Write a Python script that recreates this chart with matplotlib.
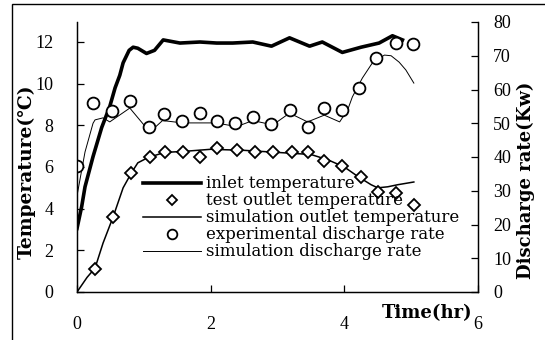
import matplotlib.pyplot as plt
from matplotlib.patches import Rectangle

# inlet temperature (thick line, left axis)
t_inlet = [0, 0.07, 0.12, 0.24, 0.37, 0.49, 0.57, 0.64, 0.69, 0.78, 0.84, 0.91, 1.04, 1.16, 1.29,
           1.54, 1.84, 2.09, 2.33, 2.63, 2.91, 3.18, 3.48, 3.67, 3.97, 4.25, 4.52, 4.72, 4.87]
v_inlet = [3.05, 4.1, 5.05, 6.5, 7.9, 8.9, 9.8, 10.4, 11.0, 11.6, 11.75, 11.7, 11.45, 11.6, 12.1,
           11.95, 12.0, 11.95, 11.95, 12.0, 11.8, 12.2, 11.8, 12.0, 11.5, 11.75, 11.95, 12.3, 12.1]

# test outlet temperature (diamonds, left axis)
t_test = [0.27, 0.54, 0.81, 1.09, 1.31, 1.58, 1.84, 2.1, 2.39, 2.66, 2.93, 3.21, 3.46, 3.7, 3.97,
          4.25, 4.51, 4.77, 5.04]
v_test = [1.1, 3.6, 5.7, 6.5, 6.7, 6.7, 6.5, 6.9, 6.8, 6.7, 6.7, 6.7, 6.7, 6.3, 6.05,
          5.5, 4.8, 4.75, 4.2]

# simulation outlet temperature (thin line, left axis)
t_sim_out = [0, 0.15, 0.27, 0.39, 0.54, 0.69, 0.82, 0.91, 1.06, 1.31, 1.6, 2.0, 2.5, 3.0, 3.5,
             3.75, 4.0, 4.2, 4.4, 4.5, 4.65, 4.8, 5.04]
v_sim_out = [0, 0.7, 1.15, 2.35, 3.6, 5.0, 5.75, 6.2, 6.45, 6.7, 6.75, 6.85, 6.8, 6.7, 6.6,
             6.35, 6.0, 5.55, 5.15, 5.0, 5.05, 5.15, 5.28]

# experimental discharge rate (circles, right axis)
t_exp_q = [0, 0.24, 0.52, 0.79, 1.07, 1.3, 1.57, 1.84, 2.1, 2.37, 2.64, 2.91, 3.18, 3.45, 3.69,
           3.96, 4.22, 4.48, 4.77, 5.02]
v_exp_q = [37.2, 56, 53.7, 56.7, 49, 52.6, 50.8, 53, 50.8, 50, 51.9, 49.8, 53.9, 49, 54.4,
           53.9, 60.3, 69.3, 73.8, 73.4]

# simulation discharge rate (hairline, right axis)
t_sim_q = [0, 0.12, 0.24, 0.27, 0.39, 0.49, 0.79, 1.09, 1.28, 1.58, 2.08, 2.39, 2.63, 2.93, 3.18,
           3.45, 3.7, 3.93, 4.05, 4.12, 4.27, 4.42, 4.6, 4.7, 4.82, 4.92, 5.04]
v_sim_q = [28.5, 41.5, 50, 51, 51.6, 50.4, 54.5, 47.4, 50.8, 50.1, 50.1, 49.0, 50.8, 49.5, 53,
           50.4, 52.4, 50.4, 54, 57.8, 63.4, 67.9, 70.2, 70.0, 68.1, 65.8, 61.9]

tick_font = 'Liberation Serif'
label_font = ['DejaVu Serif']

fig = plt.figure(figsize=(5.45, 3.4), dpi=100)
ax = fig.add_axes([77 / 545, 1 - 292 / 340, 401 / 545, 270 / 340])
ax2 = ax.twinx()

l_inlet, = ax.plot(t_inlet, v_inlet, color='black', lw=2.6, solid_joinstyle='round')
l_sim_out, = ax.plot(t_sim_out, v_sim_out, color='black', lw=1.1)
l_test, = ax.plot(t_test, v_test, ls='none', marker='D', ms=6.5, mfc='white', mec='black', mew=1.3)

l_sim_q, = ax2.plot(t_sim_q, v_sim_q, color='black', lw=0.7)
l_exp_q, = ax2.plot(t_exp_q, v_exp_q, ls='none', marker='o', ms=8.5, mfc='white', mec='black', mew=1.3)

ax.set_xlim(0, 6)
ax.set_ylim(0, 12.96)
ax2.set_ylim(0, 80)
ax.set_xticks([0, 2, 4, 6])
ax.set_yticks(range(0, 13, 2))
ax2.set_yticks(range(0, 81, 10))

for a in (ax, ax2):
    a.spines['top'].set_visible(False)
    for s in a.spines.values():
        s.set_linewidth(0.9)
    a.tick_params(direction='in', length=5, width=0.9, labelsize=13)
    for lab in a.get_xticklabels() + a.get_yticklabels():
        lab.set_fontfamily(tick_font)
ax.tick_params(axis='x', pad=17)
ax.tick_params(axis='y', pad=17)
ax2.tick_params(axis='y', pad=11)

handles = [l_inlet, l_test, l_sim_out, l_exp_q, l_sim_q]
labels = ['inlet temperature', 'test outlet temperature', 'simulation outlet temperature',
          'experimental discharge rate', 'simulation discharge rate']
leg = ax2.legend(handles, labels, loc='upper left', bbox_to_anchor=(0.165, 0.432),
                 frameon=False, prop={'family': label_font, 'size': 12},
                 handlelength=3.5, handletextpad=0.28, labelspacing=0.0,
                 borderpad=0, borderaxespad=0, markerscale=0.82)

fig.text(27 / 545, 1 - 172 / 340, 'Temperature(℃)', rotation=90, ha='center', va='center',
         family=label_font, weight='bold', fontsize=13.5)
fig.text(526 / 545, 1 - 180 / 340, 'Discharge rate(Kw)', rotation=90, ha='center', va='center',
         family=label_font, weight='bold', fontsize=13)
fig.text(472 / 545, 1 - 313 / 340, 'Time(hr)', ha='right', va='center',
         family=label_font, weight='bold', fontsize=13)

# outer frame, cut off on the right and bottom
fig.patches.append(Rectangle((12 / 545, -0.2), 1.2, 1.2 - 4 / 340, transform=fig.transFigure,
                             fill=False, edgecolor='black', lw=1.0))

fig.savefig('out.png', dpi=100)
